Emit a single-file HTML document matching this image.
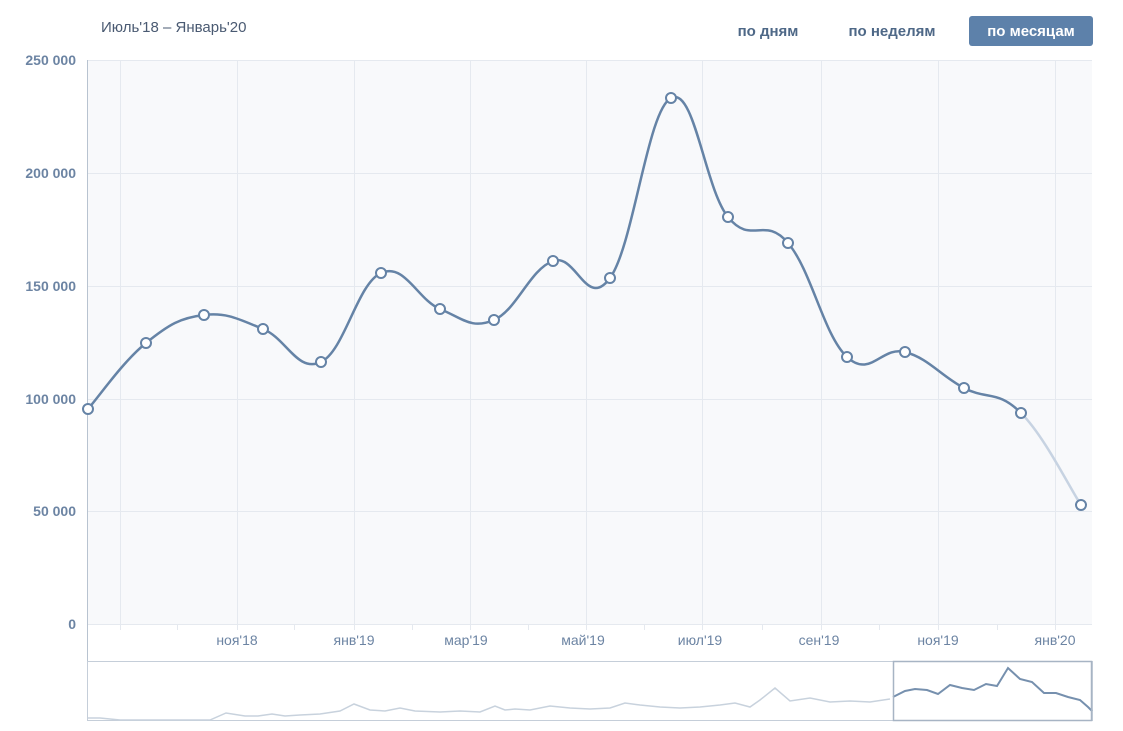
<!DOCTYPE html>
<html><head><meta charset="utf-8"><style>
body{margin:0;background:#fff;width:1123px;height:731px;overflow:hidden;font-family:"Liberation Sans","DejaVu Sans",sans-serif}
</style></head><body>
<svg width="1123" height="731" xmlns="http://www.w3.org/2000/svg" style="position:absolute;left:0;top:0">
<rect x="88" y="60" width="1004" height="565" fill="#f8f9fb"/>
<g stroke="#e5e9ef" stroke-width="1">
<line x1="88" y1="60.5" x2="1092" y2="60.5"/><line x1="88" y1="173.5" x2="1092" y2="173.5"/>
<line x1="88" y1="286.5" x2="1092" y2="286.5"/><line x1="88" y1="399.5" x2="1092" y2="399.5"/>
<line x1="88" y1="511.5" x2="1092" y2="511.5"/><line x1="88" y1="624.5" x2="1092" y2="624.5"/>
<line x1="120.5" y1="60" x2="120.5" y2="630"/><line x1="237.5" y1="60" x2="237.5" y2="630"/>
<line x1="354.5" y1="60" x2="354.5" y2="630"/><line x1="470.5" y1="60" x2="470.5" y2="630"/>
<line x1="586.5" y1="60" x2="586.5" y2="630"/><line x1="702.5" y1="60" x2="702.5" y2="630"/>
<line x1="821.5" y1="60" x2="821.5" y2="630"/><line x1="938.5" y1="60" x2="938.5" y2="630"/>
<line x1="1055.5" y1="60" x2="1055.5" y2="630"/>
<line x1="177.5" y1="625" x2="177.5" y2="630"/><line x1="294.5" y1="625" x2="294.5" y2="630"/>
<line x1="412.5" y1="625" x2="412.5" y2="630"/><line x1="528.5" y1="625" x2="528.5" y2="630"/>
<line x1="644.5" y1="625" x2="644.5" y2="630"/><line x1="762.5" y1="625" x2="762.5" y2="630"/>
<line x1="879.5" y1="625" x2="879.5" y2="630"/><line x1="997.5" y1="625" x2="997.5" y2="630"/>
</g>
<line x1="87.5" y1="60" x2="87.5" y2="721" stroke="#b8c3d0"/>
<rect x="87.5" y="661.5" width="1005" height="59" fill="none" stroke="#c5ced9"/>
<g font-size="14" fill="#6c84a3" font-weight="bold" text-anchor="end">
<text x="76" y="65">250 000</text><text x="76" y="178">200 000</text><text x="76" y="291">150 000</text>
<text x="76" y="404">100 000</text><text x="76" y="516">50 000</text><text x="76" y="629">0</text>
</g>
<g font-size="14" fill="#6c84a3" text-anchor="middle">
<text x="237" y="645">ноя'18</text><text x="354" y="645">янв'19</text><text x="466" y="645">мар'19</text>
<text x="583" y="645">май'19</text><text x="700" y="645">июл'19</text><text x="819" y="645">сен'19</text>
<text x="938" y="645">ноя'19</text><text x="1055" y="645">янв'20</text>
</g>
<text x="101" y="32" font-size="15" fill="#4a5a72">Июль'18 – Январь'20</text>
<g font-size="15" font-weight="bold" fill="#4e6887">
<text x="768" y="36" text-anchor="middle">по дням</text>
<text x="892" y="36" text-anchor="middle">по неделям</text>
</g>
<rect x="969" y="16" width="124" height="30" rx="3" fill="#5d81aa"/>
<text x="1031" y="36" font-size="15" font-weight="bold" fill="#fff" text-anchor="middle">по месяцам</text>
<path id="main" fill="none" stroke="#6583a6" stroke-width="2.5"/>
<path id="last" fill="none" stroke="#c7d3e2" stroke-width="2.5"/>
<g id="dots"></g>
<polyline fill="none" stroke="#c8d2dd" stroke-width="1.5" points="88,718 100,718 120,720 210,720 226,713 245,716 258,716 272,714 285,716 300,715 320,714 340,711 354,704 370,710 385,711 400,708 415,711 440,712 460,711 480,712 495,706 505,710 515,709 530,710 550,706 570,708 590,709 610,708 625,703 640,705 660,707 680,708 700,707 720,705 735,703 750,707 760,700 775,688 790,701 810,698 830,702 850,701 870,702 890,699"/>
<polyline fill="none" stroke="#7690ae" stroke-width="2" points="893,697 905,691 915,689 927,690 938,694 950,685 962,688 974,690 986,684 997,686 1008,668 1020,679 1032,682 1044,693 1056,693 1068,697 1080,700 1088,707 1092,711"/>
<rect x="893.5" y="661.5" width="198" height="59" fill="none" stroke="#a7b4c4" stroke-width="1.5"/>
</svg>
<script>
var p=[[88,409],[146,343],[204,315],[263,329],[321,362],[381,273],[440,309],[494,320],[553,261],[610,278],[671,98],[728,217],[788,243],[847,357],[905,352],[964,388],[1021,413],[1081,505]];
function seg(i){var p0=p[Math.max(i-1,0)],p1=p[i],p2=p[i+1],p3=p[Math.min(i+2,p.length-1)];var t=0.2;
return " C"+(p1[0]+(p2[0]-p0[0])*t)+","+(p1[1]+(p2[1]-p0[1])*t)+" "+(p2[0]-(p3[0]-p1[0])*t)+","+(p2[1]-(p3[1]-p1[1])*t)+" "+p2[0]+","+p2[1];}
var d="M"+p[0][0]+","+p[0][1];for(var i=0;i<p.length-2;i++)d+=seg(i);
document.getElementById('main').setAttribute('d',d);
var n=p.length-2;document.getElementById('last').setAttribute('d',"M"+p[n][0]+","+p[n][1]+seg(n));
var g=document.getElementById('dots'),s="";p.forEach(function(q){s+='<circle cx="'+q[0]+'" cy="'+q[1]+'" r="5" fill="#fff" stroke="#6583a6" stroke-width="2"/>';});g.innerHTML=s;
</script>
</body></html>
